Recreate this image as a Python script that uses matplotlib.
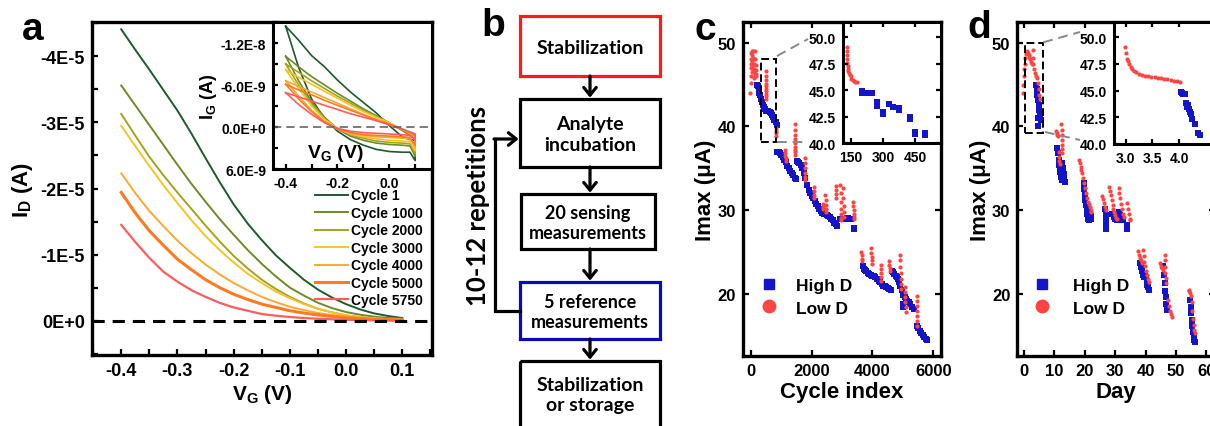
import matplotlib
matplotlib.use('Agg')
import matplotlib.pyplot as plt
import numpy as np
from matplotlib.patches import Rectangle
from matplotlib.lines import Line2D
from matplotlib.ticker import FixedLocator, MultipleLocator

plt.rcParams['font.family'] = ['Liberation Sans', 'DejaVu Sans']
plt.rcParams['font.weight'] = 'bold'
plt.rcParams['axes.labelweight'] = 'bold'
plt.rcParams['mathtext.fontset'] = 'custom'
plt.rcParams['mathtext.rm'] = 'Liberation Sans:bold'
plt.rcParams['mathtext.bf'] = 'Liberation Sans:bold'
plt.rcParams['mathtext.it'] = 'Liberation Sans:bold'
plt.rcParams['mathtext.default'] = 'rm'

# ---------------- Panel a data (I_D magnitude in 1e-5 A) ----------------
vg = [-0.4, -0.375, -0.35, -0.325, -0.3, -0.275, -0.25, -0.225, -0.2, -0.175, -0.15,
      -0.125, -0.1, -0.075, -0.05, -0.025, 0.0, 0.025, 0.05, 0.075, 0.1]
cycle_labels = ['Cycle 1', 'Cycle 1000', 'Cycle 2000', 'Cycle 3000',
                'Cycle 4000', 'Cycle 5000', 'Cycle 5750']
cycle_colors = ['#1d5a2c', '#6e8b2a', '#a3a320', '#f7c325',
                '#fca932', '#ff7a22', '#ff5c5c']
id_c1 = [4.41, 4.10, 3.80, 3.49, 3.18, 2.83, 2.46, 2.10, 1.76, 1.47, 1.22,
         0.99, 0.80, 0.62, 0.47, 0.35, 0.25, 0.17, 0.11, 0.07, 0.04]
id_c1000 = [3.56, 3.26, 2.96, 2.66, 2.36, 2.07, 1.80, 1.54, 1.30, 1.07, 0.86,
            0.67, 0.50, 0.38, 0.27, 0.19, 0.13, 0.09, 0.06, 0.04, 0.03]
id_c2000 = [3.13, 2.80, 2.48, 2.20, 1.94, 1.69, 1.44, 1.20, 0.98, 0.79, 0.62,
            0.48, 0.36, 0.26, 0.18, 0.125, 0.08, 0.055, 0.035, 0.024, 0.015]
id_c3000 = [2.95, 2.64, 2.34, 2.05, 1.78, 1.52, 1.28, 1.07, 0.88, 0.71, 0.57,
            0.44, 0.34, 0.25, 0.18, 0.125, 0.08, 0.055, 0.035, 0.024, 0.015]
id_c4000 = [2.23, 1.93, 1.66, 1.43, 1.21, 1.02, 0.85, 0.70, 0.57, 0.46, 0.36,
            0.28, 0.21, 0.16, 0.115, 0.085, 0.06, 0.04, 0.025, 0.017, 0.01]
id_c5000 = [1.94, 1.63, 1.36, 1.14, 0.93, 0.77, 0.62, 0.50, 0.40, 0.32, 0.25,
            0.20, 0.15, 0.115, 0.085, 0.065, 0.045, 0.032, 0.02, 0.015, 0.01]
id_c5750 = [1.45, 1.19, 0.95, 0.74, 0.59, 0.46, 0.36, 0.27, 0.20, 0.15, 0.10,
            0.075, 0.055, 0.04, 0.028, 0.02, 0.013, 0.008, 0.005, 0.002, 0.0]

# inset a: gate current loops (nA)
vg_in = [-0.4, -0.35, -0.3, -0.25, -0.2, -0.15, -0.1, -0.05, 0.0, 0.05, 0.08, 0.1]
ig_up_c1 = [-14.4, -12.4, -10.2, -8.6, -6.7, -5.0, -3.5, -2.0, -0.2, 1.4, 1.8, 1.9]
ig_lo_c1 = [-14.4, -8.5, -4.0, -1.2, 0.6, 1.8, 2.6, 3.2, 3.5, 3.6, 3.6, 4.8]
ig_up_c1000 = [-10.1, -8.6, -7.2, -6.0, -4.8, -3.7, -2.6, -1.6, -0.6, 0.5, 1.2, 1.6]
ig_lo_c1000 = [-10.1, -6.6, -3.6, -1.4, 0.3, 1.3, 1.9, 2.3, 2.5, 2.6, 2.7, 4.2]
ig_up_c2000 = [-9.0, -7.8, -6.6, -5.5, -4.4, -3.4, -2.4, -1.5, -0.6, 0.4, 1.0, 1.5]
ig_lo_c2000 = [-9.0, -6.0, -3.3, -1.2, 0.2, 1.1, 1.6, 2.0, 2.2, 2.3, 2.4, 3.8]
ig_up_c3000 = [-8.2, -7.1, -6.1, -5.1, -4.1, -3.1, -2.2, -1.4, -0.6, 0.3, 0.9, 1.4]
ig_lo_c3000 = [-8.2, -5.5, -3.0, -1.1, 0.2, 1.0, 1.4, 1.7, 1.9, 2.0, 2.1, 3.4]
ig_up_c4000 = [-6.6, -5.8, -5.0, -4.2, -3.4, -2.6, -1.8, -1.1, -0.4, 0.3, 0.8, 1.3]
ig_lo_c4000 = [-6.6, -4.4, -2.4, -0.8, 0.3, 0.9, 1.2, 1.4, 1.5, 1.6, 1.7, 2.9]
ig_up_c5000 = [-6.1, -5.3, -4.6, -3.8, -3.1, -2.4, -1.7, -1.0, -0.4, 0.3, 0.8, 1.2]
ig_lo_c5000 = [-6.1, -4.0, -2.2, -0.7, 0.3, 0.8, 1.1, 1.2, 1.3, 1.4, 1.5, 2.6]
ig_up_c5750 = [-4.9, -4.3, -3.7, -3.1, -2.5, -1.9, -1.4, -0.9, -0.3, 0.3, 0.7, 1.0]
ig_lo_c5750 = [-4.9, -3.2, -1.8, -0.6, 0.2, 0.6, 0.8, 0.9, 1.0, 1.1, 1.2, 1.8]

a_yticks = [-4e-5, -3e-5, -2e-5, -1e-5, 0.0]
a_yticklabels = ['-4E-5', '-3E-5', '-2E-5', '-1E-5', '0E+0']
a_xticks = [-0.4, -0.3, -0.2, -0.1, 0.0, 0.1]
ai_yticks = [-1.2e-8, -6e-9, 0.0, 6e-9]
ai_yticklabels = ['-1.2E-8', '-6.0E-9', '0.0E+0', '6.0E-9']
ai_xticks = [-0.4, -0.2, 0.0]

# ---------------- Panel b text ----------------
box_texts = ['Stabilization', 'Analyte\nincubation', '20 sensing\nmeasurements',
             '5 reference\nmeasurements', 'Stabilization\nor storage']
loop_text = '10-12 repetitions'

# ---------------- Panel c data (Imax in uA vs cycle index) ----------------
c_high_x = [200, 230, 260, 290, 320, 350, 380, 410, 440, 470, 500, 540, 580, 620, 660, 700, 740, 780, 820, 850,
            880, 920, 960, 1000, 1050, 1100, 1150, 1200, 1250, 1300, 1350, 1400, 1450, 1500,
            1520, 1560, 1600, 1650, 1700, 1750, 1800, 1850, 1900, 1950, 2000, 2050, 2100, 2150, 2200, 2250,
            2300, 2350, 2400, 2450, 2500, 2550, 2600, 2650, 2700, 2750, 2800, 2850,
            2950, 3000, 3050, 3100, 3150, 3200, 3250, 3300, 3380, 3400,
            3680, 3720, 3760, 3800, 3850, 3900, 3950, 4000, 4050, 4100, 4150, 4200, 4250, 4300, 4350, 4400,
            4450, 4500, 4550, 4600,
            4640, 4680, 4720, 4760, 4800, 4840, 4880, 4920, 4960, 5000, 5000, 5020, 5060, 5100, 5150, 5200,
            5250, 5300, 5350,
            5470, 5500, 5550, 5600, 5650, 5700, 5750, 5780]
c_high_y = [44.9, 44.8, 44.6, 44.0, 43.7, 43.3, 42.9, 42.6, 42.3, 42.1, 41.9, 41.8, 41.9, 41.7, 41.6, 41.4, 41.1, 40.8, 40.5, 40.2,
            37.0, 36.9, 36.8, 36.6, 36.3, 36.0, 35.7, 35.3, 35.0, 34.7, 34.5, 34.2, 33.9, 33.7,
            35.9, 35.8, 35.6, 35.4, 35.0, 34.5, 33.8, 33.0, 32.4, 32.0, 31.7, 31.4, 31.1, 30.8, 30.5, 30.2,
            29.9, 29.7, 29.6, 29.5, 29.4, 29.3, 29.2, 29.0, 28.8, 28.5, 28.3, 28.1,
            29.0, 29.0, 29.0, 29.0, 29.1, 29.1, 29.0, 29.0, 27.9, 27.7,
            23.3, 23.0, 22.9, 22.7, 22.5, 22.4, 22.3, 22.2, 22.1, 22.0, 21.8, 21.6, 21.4, 21.2, 21.0, 20.9,
            20.8, 20.7, 20.6, 20.5,
            22.8, 22.6, 22.4, 22.2, 22.0, 21.8, 21.4, 21.0, 20.5, 19.9, 18.8, 18.4, 19.6, 19.4, 19.2, 19.0,
            18.8, 18.5, 18.2,
            16.2, 16.0, 15.6, 15.3, 15.1, 14.9, 14.6, 14.5]
c_low_x = [-10, 0, 0, 5, 10, 15, 20, 30, 40, 50, 50, 60, 70, 80, 90, 100, 100, 110, 120, 130, 140, 150, 160, 170, 180, 190,
           490, 492, 494, 496, 498, 500, 502, 504, 506, 508,
           825, 830, 835, 840,
           1130, 1135, 1140, 1145, 1150,
           1440, 1442, 1444, 1446, 1448, 1450, 1452, 1455, 1458,
           1780, 1783, 1786, 1790, 1795, 1800,
           2070, 2075, 2080, 2085,
           2370, 2380, 2390,
           2455, 2460, 2465, 2470, 2475,
           2790, 2795, 2800, 2805,
           2950, 2955, 2960, 2965, 2970, 2975, 2980, 3040, 3045, 3050, 3055, 3060,
           3375, 3378, 3381, 3384, 3387, 3390,
           3640, 3645, 3650, 3655,
           3965, 3968, 3971, 3974, 3977,
           4275, 4280, 4285, 4290, 4295,
           4555, 4560, 4565, 4570,
           4915, 4918, 4921, 4924, 4927, 4930, 4933,
           5075, 5078, 5081, 5084, 5087, 5090,
           5455, 5458, 5461, 5464, 5467, 5470, 5473]
c_low_y = [44.0, 45.2, 47.5, 46.0, 47.0, 48.0, 48.8, 49.0, 48.5, 47.8, 46.5, 47.2, 46.8, 49.0, 48.2, 47.5, 45.8, 46.9, 46.5, 46.2, 49.0, 48.0, 47.3, 46.7, 46.3, 46.0,
           46.6, 46.0, 45.5, 45.1, 44.8, 44.5, 44.2, 43.9, 43.6, 43.3,
           39.8, 39.5, 39.2, 38.9,
           37.2, 36.8, 36.5, 36.2, 35.9,
           40.3, 39.6, 39.0, 38.5, 38.0, 37.6, 37.2, 36.9, 36.6,
           36.2, 35.6, 35.0, 34.5, 34.0, 33.6,
           32.8, 32.3, 31.8, 31.4,
           30.8, 30.4, 30.1,
           31.8, 31.2, 30.6, 30.1, 29.8,
           32.9, 32.4, 31.9, 31.5,
           33.0, 32.0, 31.0, 30.2, 29.6, 29.1, 28.8, 32.6, 31.5, 30.5, 29.8, 29.2,
           31.0, 30.5, 30.0, 29.6, 29.2, 28.9,
           25.0, 24.6, 24.2, 23.9,
           25.5, 24.9, 24.4, 24.0, 23.6,
           23.5, 23.0, 22.5, 22.0, 21.6,
           23.9, 23.5, 23.1, 22.8,
           24.7, 24.0, 23.2, 22.5, 21.8, 21.2, 20.6,
           20.8, 20.2, 19.6, 19.0, 18.4, 17.8,
           19.8, 19.2, 18.6, 18.0, 17.4, 16.8, 16.2]
# inset c
ci_low_x = [130, 130, 131, 131, 132, 133, 135, 137, 140, 143, 147, 151, 156, 162, 168, 175]
ci_low_y = [49.1, 48.7, 48.3, 47.9, 47.6, 47.3, 47.0, 46.8, 46.6, 46.4, 46.3, 46.1, 46.0, 45.9, 45.8, 45.75]
ci_high_x = [200, 200, 224, 247, 270, 270, 299, 299, 325, 348, 375, 375, 427, 427, 450, 450, 494, 494]
ci_high_y = [44.95, 44.75, 44.78, 44.71, 43.85, 43.55, 42.95, 42.75, 43.75, 43.46, 43.3, 43.1, 42.45, 42.25, 41.1, 40.9, 40.95, 40.8]

# ---------------- Panel d data (Imax in uA vs day) ----------------
d_high_x = [4.0, 4.2, 4.4, 4.6, 4.8, 5.0, 5.2, 5.4, 5.6, 4.5, 4.6,
            11.0, 11.2, 11.4, 11.6, 11.8, 12.0, 12.2, 12.4, 12.6, 12.8, 13.0, 13.2, 13.4,
            19.6, 19.8, 20.0, 20.2, 20.4, 20.6, 20.8, 21.0, 21.3, 21.6, 21.9, 22.1,
            26.7, 26.8, 26.9, 27.0, 27.1, 29.0, 29.5, 30.0, 30.5, 31.2, 31.7, 32.2, 32.7, 33.8, 33.9,
            38.2, 38.5, 38.8, 39.1, 39.4, 39.7, 40.0, 40.3, 40.6, 40.9, 41.2,
            45.8, 46.0, 46.2, 46.4, 46.6, 46.8, 46.9,
            54.6, 54.8, 55.0, 55.2, 55.4, 55.6, 55.8, 56.0, 56.2]
d_high_y = [44.9, 44.5, 43.8, 43.2, 42.5, 42.0, 41.5, 41.2, 40.8, 41.0, 40.0,
            37.4, 36.8, 36.0, 35.4, 35.0, 34.6, 34.0, 33.6, 35.6, 35.0, 34.3, 33.7, 33.4,
            33.2, 32.5, 31.8, 31.2, 30.6, 30.0, 29.5, 29.0, 28.8, 29.6, 29.3, 29.0,
            30.1, 29.4, 28.8, 28.2, 27.8, 29.6, 29.2, 29.0, 28.8, 29.8, 29.4, 29.0, 28.8, 28.2, 27.8,
            23.7, 23.2, 22.7, 22.3, 22.0, 22.5, 22.0, 21.6, 21.1, 20.8, 20.5,
            23.3, 22.3, 21.3, 20.4, 19.6, 18.8, 18.1,
            19.3, 18.5, 17.7, 16.9, 16.2, 15.5, 14.9, 14.5, 14.3]
d_low_x = [-0.3, -0.2, 0.0, 0.1, 0.2, 0.4, 0.6, 0.9, 1.2, 1.5, 1.8, 2.1, 2.4, 2.7, 2.95, 3.0, 3.1, 3.3, 3.6, 4.0,
           4.3, 4.6, 4.8, 5.0, 5.2,
           10.5, 10.8, 11.0, 11.3, 12.3, 12.35, 12.4, 12.45, 12.5, 12.55, 12.6, 11.4, 11.5, 11.6, 11.7,
           18.0, 18.3, 18.6, 18.9, 19.2, 19.5, 19.8, 20.1, 20.4, 20.7, 21.0, 21.3, 21.6, 21.9, 22.1,
           25.8, 26.1, 26.4, 26.7, 27.0, 27.9, 28.2, 28.5, 28.8, 29.1, 29.4, 29.7, 30.0, 30.3, 30.6,
           31.1, 31.4, 31.7, 32.0, 32.3, 32.6, 33.0, 33.8, 34.1, 34.4, 34.7, 35.0,
           37.6, 37.9, 38.2, 38.5, 38.8, 39.1, 39.3, 39.5, 39.7, 40.0, 40.4, 40.8, 41.2,
           44.7, 45.0, 45.3, 45.6, 46.2, 46.3, 46.4, 46.5, 46.6, 46.7, 47.3, 47.6, 47.9, 48.2, 48.5,
           54.1, 54.4, 54.7, 55.0, 55.2, 55.4, 55.6, 55.8, 56.0, 56.3]
d_low_y = [44.0, 45.0, 46.0, 46.8, 47.5, 48.2, 48.7, 49.0, 48.8, 48.5, 48.3, 48.0, 47.7, 47.4, 49.1, 48.2, 47.5, 46.8, 46.4, 46.0,
           45.8, 45.2, 44.5, 43.8, 43.3,
           39.5, 39.2, 39.0, 38.9, 40.3, 39.6, 39.0, 38.4, 37.8, 37.3, 36.8, 36.9, 36.4, 35.9, 35.5,
           36.0, 35.6, 35.2, 34.8, 34.4, 33.8, 33.2, 32.6, 32.0, 31.5, 31.0, 30.7, 30.4, 30.0, 29.8,
           31.7, 31.3, 30.9, 30.4, 30.0, 32.8, 32.3, 31.8, 31.2, 30.6, 30.2, 29.8, 29.4, 29.1, 29.0,
           32.6, 32.0, 31.4, 30.7, 30.2, 29.6, 29.2, 30.9, 30.2, 29.6, 29.0, 28.8,
           25.1, 24.7, 24.3, 24.0, 23.7, 25.2, 24.5, 23.8, 23.3, 22.8, 22.3, 21.8, 21.4,
           23.7, 23.4, 23.1, 22.9, 24.7, 24.0, 23.2, 22.5, 21.9, 21.3, 19.3, 18.6, 18.0, 17.6, 17.3,
           20.5, 20.3, 20.1, 19.8, 19.0, 18.0, 17.0, 16.3, 15.7, 15.3]
# inset d
di_low_x = [2.98, 3.00, 3.02, 3.04, 3.06, 3.09, 3.12, 3.16, 3.20, 3.25, 3.30, 3.36, 3.42, 3.48, 3.54,
            3.60, 3.66, 3.72, 3.78, 3.84, 3.90, 3.96, 4.02]
di_low_y = [49.1, 48.5, 48.0, 47.8, 47.5, 47.2, 47.0, 46.8, 46.7, 46.6, 46.5, 46.4, 46.35, 46.3, 46.25,
            46.2, 46.15, 46.1, 46.05, 46.0, 45.95, 45.9, 45.8]
di_high_x = [4.04, 4.06, 4.08, 4.10, 4.12, 4.14, 4.16, 4.18, 4.20, 4.22, 4.24, 4.30, 4.35, 4.38]
di_high_y = [44.9, 44.8, 44.7, 44.7, 43.8, 43.5, 43.7, 43.3, 43.0, 42.8, 42.3, 41.9, 41.0, 40.8]

legend_labels = ['High D', 'Low D']
BLUE = '#1414c8'
RED = '#ff4444'

# =====================================================================
W, H = 1210, 427
fig = plt.figure(figsize=(W / 100, H / 100), dpi=100)


def px_axes(l, t, r, b, **kw):
    return fig.add_axes([l / W, 1 - b / H, (r - l) / W, (b - t) / H], **kw)


def style(ax, lw=2.4, top=False, right=False, size=13, length=4.5):
    for s in ax.spines.values():
        s.set_linewidth(lw)
    ax.tick_params(which='both', direction='in', width=1.6, length=length,
                   top=top, right=right, labelsize=size, pad=5)
    for lab in ax.get_xticklabels() + ax.get_yticklabels():
        lab.set_fontweight('bold')


# ---------------- Panel a ----------------
axA = px_axes(92, 23, 432, 356)
id_curves = [id_c1, id_c1000, id_c2000, id_c3000, id_c4000, id_c5000, id_c5750]
lws = [1.4, 1.4, 1.4, 1.4, 1.4, 2.2, 1.6]
for lab, col, lw, vals in zip(cycle_labels, cycle_colors, lws, id_curves):
    axA.plot(vg, np.array(vals) * -1e-5, color=col, lw=lw, label=lab)
axA.axhline(0, color='k', lw=2.2, ls=(0, (4, 2.6)))
axA.set_xlim(-0.452, 0.153)
axA.set_ylim(0.52e-5, -4.52e-5)
axA.yaxis.set_major_locator(FixedLocator(a_yticks))
axA.set_yticklabels(a_yticklabels)
axA.yaxis.set_minor_locator(MultipleLocator(0.5e-5))
axA.xaxis.set_major_locator(FixedLocator(a_xticks))
axA.set_xticklabels(['%.1f' % v for v in a_xticks])
axA.xaxis.set_minor_locator(MultipleLocator(0.05))
style(axA, size=13)
axA.set_xlabel(r'V$_\mathrm{G}$ (V)', fontsize=15, labelpad=2)
axA.set_ylabel(r'I$_\mathrm{D}$ (A)', fontsize=16, labelpad=4)
leg = axA.legend(loc='upper left', bbox_to_anchor=(0.655, 0.50), frameon=False,
                 fontsize=10, handlelength=2.4, handletextpad=0.2, labelspacing=0.25,
                 borderpad=0, borderaxespad=0)
for t in leg.get_texts():
    t.set_fontweight('bold')

# inset a
axAi = px_axes(273, 23, 432, 170)
ig_up = [ig_up_c1, ig_up_c1000, ig_up_c2000, ig_up_c3000, ig_up_c4000, ig_up_c5000, ig_up_c5750]
ig_lo = [ig_lo_c1, ig_lo_c1000, ig_lo_c2000, ig_lo_c3000, ig_lo_c4000, ig_lo_c5000, ig_lo_c5750]
for col, up, lo in zip(cycle_colors, ig_up, ig_lo):
    xs = list(vg_in) + list(vg_in[::-1])
    ys = list(lo) + list(up[::-1])
    axAi.plot(xs, np.array(ys) * 1e-9, color=col, lw=1.2)
axAi.axhline(0, color='#666666', lw=1.2, ls=(0, (5, 3)))
axAi.set_xlim(-0.449, 0.165)
axAi.set_ylim(6e-9, -1.5e-8)
axAi.yaxis.set_major_locator(FixedLocator(ai_yticks))
axAi.set_yticklabels(ai_yticklabels)
axAi.yaxis.set_minor_locator(MultipleLocator(3e-9))
axAi.xaxis.set_major_locator(FixedLocator(ai_xticks))
axAi.set_xticklabels(['%.1f' % v for v in ai_xticks])
axAi.xaxis.set_minor_locator(MultipleLocator(0.1))
style(axAi, lw=2.2, size=10, length=3.5)
axAi.set_ylabel(r'I$_\mathrm{G}$ (A)', fontsize=13, labelpad=1)
axAi.text(0.39, 0.11, r'V$_\mathrm{G}$ (V)', transform=axAi.transAxes, fontsize=14,
          ha='center', va='center')

# ---------------- Panel c ----------------
axC = px_axes(743, 22.7, 940.7, 357)
axC.scatter(c_high_x, c_high_y, marker='s', s=13, color=BLUE, lw=0, zorder=3)
axC.scatter(c_low_x, c_low_y, marker='o', s=9, color=RED, lw=0, zorder=4)
axC.set_xlim(-252, 6243)
axC.set_ylim(12.6, 52.5)
axC.set_xticks([0, 2000, 4000, 6000])
axC.set_yticks([20, 30, 40, 50])
style(axC, top=True, right=True, size=12)
axC.set_xlabel('Cycle index', fontsize=16, labelpad=2)
axC.set_ylabel('Imax (μA)', fontsize=16, labelpad=1)
axC.add_patch(Rectangle((328, 38.1), 502, 10.0, fill=False, ls=(0, (4, 2)), lw=1.4, ec='k', zorder=5))
hC = [Line2D([], [], marker='s', color=BLUE, ls='none', markersize=7.5),
      Line2D([], [], marker='o', color=RED, ls='none', markersize=9)]
legC = axC.legend(hC, legend_labels, loc='upper left', bbox_to_anchor=(0.09, 0.235), frameon=False,
                  fontsize=12.5, handlelength=1.0, handletextpad=1.0, labelspacing=0.45,
                  borderpad=0, borderaxespad=0)
for t in legC.get_texts():
    t.set_fontweight('bold')

axCi = px_axes(842.7, 22.7, 940.7, 144.3)
axCi.scatter(ci_low_x, ci_low_y, marker='o', s=9, color=RED, lw=0)
axCi.scatter(ci_high_x, ci_high_y, marker='s', s=18, color=BLUE, lw=0)
axCi.set_xlim(110, 570)
axCi.set_ylim(40, 51.46)
axCi.set_xticks([150, 300, 450])
axCi.set_yticks([40.0, 42.5, 45.0, 47.5, 50.0])
axCi.set_yticklabels(['%.1f' % v for v in [40.0, 42.5, 45.0, 47.5, 50.0]])
style(axCi, lw=2.2, top=True, right=True, size=10, length=3.5)

# ---------------- Panel d ----------------
axD = px_axes(1017.3, 22.7, 1215, 357)
axD.scatter(d_high_x, d_high_y, marker='s', s=13, color=BLUE, lw=0, zorder=3)
axD.scatter(d_low_x, d_low_y, marker='o', s=9, color=RED, lw=0, zorder=4)
axD.set_xlim(-2.2, 62.8)
axD.set_ylim(12.6, 52.5)
axD.set_xticks([0, 10, 20, 30, 40, 50, 60])
axD.set_yticks([20, 30, 40, 50])
style(axD, top=True, right=True, size=12)
axD.set_xlabel('Day', fontsize=16, labelpad=2)
axD.set_ylabel('Imax (μA)', fontsize=16, labelpad=1)
axD.add_patch(Rectangle((0.3, 39.2), 6.0, 10.8, fill=False, ls=(0, (4, 2)), lw=1.4, ec='k', zorder=5))
hD = [Line2D([], [], marker='s', color=BLUE, ls='none', markersize=7.5),
      Line2D([], [], marker='o', color=RED, ls='none', markersize=9)]
legD = axD.legend(hD, legend_labels, loc='upper left', bbox_to_anchor=(0.08, 0.235), frameon=False,
                  fontsize=12.5, handlelength=1.0, handletextpad=1.3, labelspacing=0.45,
                  borderpad=0, borderaxespad=0)
for t in legD.get_texts():
    t.set_fontweight('bold')

axDi = px_axes(1114, 22.7, 1215, 145)
axDi.scatter(di_low_x, di_low_y, marker='o', s=9, color=RED, lw=0)
axDi.scatter(di_high_x, di_high_y, marker='s', s=18, color=BLUE, lw=0)
axDi.set_xlim(2.78, 4.67)
axDi.set_ylim(40, 51.46)
axDi.set_xticks([3.0, 3.5, 4.0])
axDi.set_xticklabels(['3.0', '3.5', '4.0'])
axDi.set_yticks([40.0, 42.5, 45.0, 47.5, 50.0])
axDi.set_yticklabels(['%.1f' % v for v in [40.0, 42.5, 45.0, 47.5, 50.0]])
style(axDi, lw=2.2, top=True, right=True, size=10, length=3.5)

# ---------------- overlay: panel b, letters, connectors ----------------
ov = fig.add_axes([0, 0, 1, 1], zorder=10)
ov.set_xlim(0, W)
ov.set_ylim(H, 0)
ov.set_axis_off()

boxes = [(520, 17, 660, 77, '#ff1a1a'), (520, 100, 660, 168, 'k'), (521, 195, 655, 250, 'k'),
         (520, 283, 660, 340, '#0a0ab4'), (520, 362, 660, 432, 'k')]
box_fs = [14, 14, 13, 13, 14]
for (l, t, r, b, ec), txt, fs in zip(boxes, box_texts, box_fs):
    ov.add_patch(Rectangle((l, t), r - l, b - t, fill=False, ec=ec, lw=2.3))
    ov.text((l + r) / 2, (t + min(b, 427)) / 2 + 1, txt, ha='center', va='center',
            fontsize=fs, fontfamily='Lato', fontweight='bold', linespacing=1.25)
arrow_kw = dict(arrowstyle='->,head_length=0.55,head_width=0.45', lw=2.3, color='k',
                shrinkA=0, shrinkB=1)
for (y0, y1) in [(77, 100), (168, 195), (250, 283), (340, 362)]:
    ov.annotate('', xy=(590, y1), xytext=(590, y0), arrowprops=arrow_kw)
ov.plot([520, 495, 495], [312, 312, 140], color='k', lw=2.3, solid_joinstyle='miter')
ov.annotate('', xy=(520, 140), xytext=(494, 140), arrowprops=arrow_kw)
ov.text(478, 206, loop_text, rotation=90, ha='center', va='center', fontsize=18.5,
        fontfamily='Lato', fontweight='bold')

for (x, y, s) in [(33, 30, 'a'), (493, 26, 'b'), (705, 30, 'c'), (979, 28, 'd')]:
    ov.text(x, y, s, ha='center', va='center', fontsize=28, fontweight='bold')

# zoom connectors
for (x0, y0, x1, y1) in [(777, 57, 808, 40), (777, 143.3, 808, 143.3),
                         (1043.3, 43.3, 1080, 33), (1045, 133, 1080, 141)]:
    ov.plot([x0, x1], [y0, y1], color='#888888', lw=1.4, ls=(0, (5, 3)))

fig.savefig('out.png', dpi=100)
